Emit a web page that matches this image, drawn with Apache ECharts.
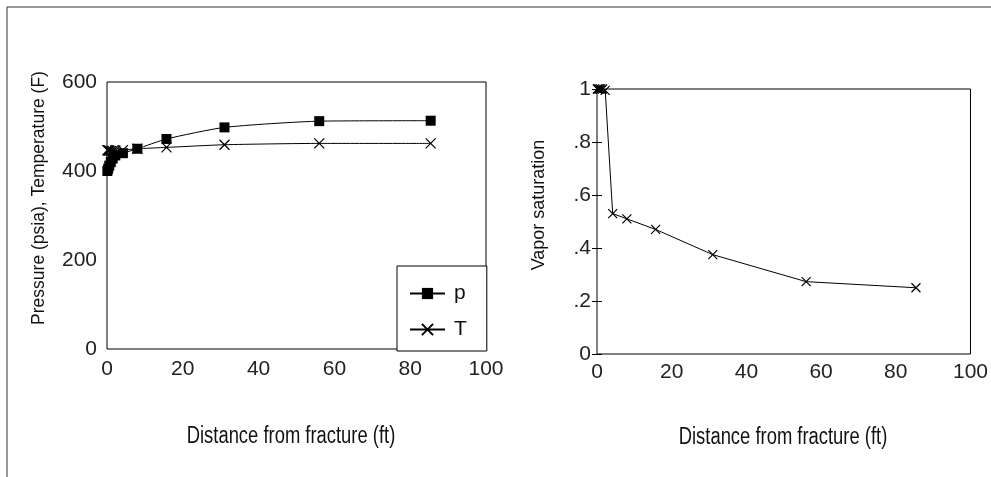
<!DOCTYPE html>
<html><head><meta charset="utf-8">
<script src="https://cdn.jsdelivr.net/npm/echarts@6/dist/echarts.min.js"></script>
<style>html,body{margin:0;padding:0;background:#fff}#c{width:991px;height:477px}</style>
</head><body><div id="c"></div>
<script>
// Data
const distance = [0.1, 0.3, 0.6, 1.0, 1.5, 2.2, 4.2, 8.0, 15.7, 31.0, 56.0, 85.4];
const pressure = [400, 405, 412, 420, 428, 435, 440, 450, 472, 498, 512, 513];
const temperature = [447, 446, 446, 445, 445, 446, 447, 450, 453, 459, 462, 462];
const vaporSat = [1, 1, 1, 1, 1, 0.995, 0.53, 0.51, 0.47, 0.375, 0.273, 0.25];
const xTicks = [0, 20, 40, 60, 80, 100];
const pTicks = [0, 200, 400, 600];
const sTicks = ['0', '.2', '.4', '.6', '.8', '1'];
const xName = 'Distance from fracture (ft)';
const pName = 'Pressure (psia), Temperature (F)';
const sName = 'Vapor saturation';

const pair = (xs, ys) => xs.map((x, i) => [x, ys[i]]);
const crossSym = 'path://M0,0L10,10M10,0L0,10';
const tickFont = {fontFamily: 'Liberation Sans', fontSize: 21, color: '#222'};

const chart = echarts.init(document.getElementById('c'), null, {renderer: 'canvas'});
chart.setOption({
  animation: false,
  backgroundColor: '#fff',
  grid: [
    {left: 107, top: 82, width: 379, height: 267, show: true, borderColor: '#000', borderWidth: 1},
    {left: 597, top: 89, width: 374, height: 265, show: true, borderColor: '#000', borderWidth: 1}
  ],
  xAxis: [
    {gridIndex: 0, type: 'value', min: xTicks[0], max: xTicks[xTicks.length - 1], interval: 20,
     axisLine: {show: false}, axisTick: {show: false}, splitLine: {show: false},
     axisLabel: Object.assign({margin: 10}, tickFont)},
    {gridIndex: 1, type: 'value', min: xTicks[0], max: xTicks[xTicks.length - 1], interval: 20,
     axisLine: {show: false}, axisTick: {show: false}, splitLine: {show: false},
     axisLabel: Object.assign({margin: 8}, tickFont)}
  ],
  yAxis: [
    {gridIndex: 0, type: 'value', min: pTicks[0], max: pTicks[pTicks.length - 1], interval: 200,
     axisLine: {show: false}, axisTick: {show: false}, splitLine: {show: false},
     axisLabel: Object.assign({margin: 10}, tickFont)},
    {gridIndex: 1, type: 'value', position: 'left', min: 0, max: 1, interval: 0.2,
     axisLine: {show: false}, axisTick: {show: true, length: 5, lineStyle: {color: '#000'}}, splitLine: {show: false},
     axisLabel: Object.assign({margin: 6, formatter: (v) => sTicks[Math.round(v * 5)]}, tickFont)},
    {gridIndex: 1, type: 'value', position: 'left', offset: 0, min: 0, max: 1, interval: 0.2,
     axisLine: {show: false}, axisTick: {show: true, inside: true, length: 5, lineStyle: {color: '#000'}},
     splitLine: {show: false}, axisLabel: {show: false}}
  ],
  legend: {
    left: 397, top: 266, orient: 'vertical', data: ['p', 'T'],
    backgroundColor: '#fff', borderColor: '#000', borderWidth: 1,
    padding: [17, 20, 11, 12], itemGap: 15, itemWidth: 35, itemHeight: 14,
    textStyle: {fontFamily: 'Liberation Sans', fontSize: 21, color: '#111', padding: [0, 0, 0, 4]}
  },
  graphic: [
    {type: 'line', shape: {x1: 7, y1: 7, x2: 991, y2: 7}, style: {stroke: '#333', lineWidth: 1}},
    {type: 'line', shape: {x1: 7, y1: 7, x2: 7, y2: 477}, style: {stroke: '#333', lineWidth: 1}},
    {type: 'text', x: 39, y: 198, rotation: Math.PI / 2,
     style: {text: pName, fontFamily: 'Liberation Sans', fontSize: 17.5,
             fill: '#111', align: 'center', verticalAlign: 'middle'}},
    {type: 'text', x: 539, y: 205, rotation: Math.PI / 2,
     style: {text: sName, fontFamily: 'Liberation Sans', fontSize: 18,
             fill: '#111', align: 'center', verticalAlign: 'middle'}},
    {type: 'text', x: 291, y: 437, scaleX: 0.8,
     style: {text: xName, fontFamily: 'Liberation Sans', fontSize: 23,
             fill: '#111', align: 'center', verticalAlign: 'middle'}},
    {type: 'text', x: 783, y: 438, scaleX: 0.8,
     style: {text: xName, fontFamily: 'Liberation Sans', fontSize: 23,
             fill: '#111', align: 'center', verticalAlign: 'middle'}}
  ],
  series: [
    {name: 'p', type: 'line', xAxisIndex: 0, yAxisIndex: 0, data: pair(distance, pressure),
     smooth: 0.2, symbol: 'rect', symbolSize: 10, lineStyle: {color: '#000', width: 1},
     itemStyle: {color: '#000'}},
    {name: 'T', type: 'line', xAxisIndex: 0, yAxisIndex: 0, data: pair(distance, temperature),
     smooth: 0.2, symbol: crossSym, symbolSize: 10, lineStyle: {color: '#000', width: 1},
     itemStyle: {color: '#000', borderColor: '#000', borderWidth: 1.2}},
    {name: 'Sv', type: 'line', xAxisIndex: 1, yAxisIndex: 1, data: pair(distance, vaporSat),
     symbol: crossSym, symbolSize: 9, lineStyle: {color: '#000', width: 1},
     itemStyle: {color: '#000', borderColor: '#000', borderWidth: 1.2}}
  ]
});
</script></body></html>
